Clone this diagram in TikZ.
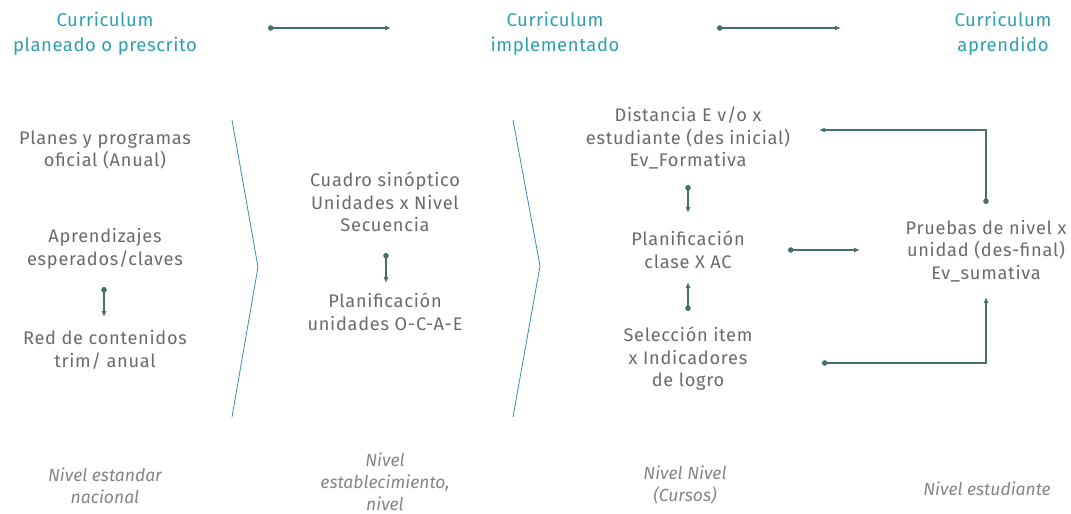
\documentclass[tikz,border=0pt]{standalone}
\usepackage{fontspec}
\setmainfont{Fira Sans}
\usetikzlibrary{arrows.meta}
\definecolor{titlec}{HTML}{2E9FB2}
\definecolor{bodyc}{HTML}{6A6A6A}
\definecolor{linkc}{HTML}{44706E}
\definecolor{chevc}{HTML}{3A8AB4}
\definecolor{levc}{HTML}{858585}
\tikzset{
  ttl/.style={text=titlec, align=center, font=\fontsize{18.5}{25.5}\selectfont\addfontfeatures{LetterSpace=3}, inner sep=0pt},
  bodytxt/.style={text=bodyc, align=center, font=\fontsize{18.2}{22.5}\selectfont\addfontfeatures{LetterSpace=4}, inner sep=0pt},
  lev/.style={text=levc, align=center, font=\fontsize{17.5}{22}\selectfont\itshape, inner sep=0pt},
  link/.style={draw=linkc, line width=1.1pt, {Circle[length=5.5pt]}-{Latex[length=6pt,width=5pt]}},
  chev/.style={draw=chevc, line width=0.8pt}
}
\begin{document}
\begin{tikzpicture}[x=1pt,y=-1pt]
\useasboundingbox (0,0) rectangle (1071,514);
% titles
\node[ttl] (t1) at (105,34) {Curriculum\\planeado o prescrito};
\node[ttl] (t2) at (555,34) {Curriculum\\implementado};
\node[ttl] (t3) at (1003,34) {Curriculum\\aprendido};
\coordinate (a1s) at (268,28); \coordinate (a1e) at (391,28);
\coordinate (a2s) at (717,28); \coordinate (a2e) at (841,28);
\draw[link] (a1s) -- (a1e);
\draw[link] (a2s) -- (a2e);
% chevrons
\coordinate (c1a) at (232,120); \coordinate (c1b) at (258,267); \coordinate (c1c) at (232,417);
\coordinate (c2a) at (513,120); \coordinate (c2b) at (540,266); \coordinate (c2c) at (513,417);
\draw[chev] (c1a) -- (c1b) -- (c1c);
\draw[chev] (c2a) -- (c2b) -- (c2c);
% left column
\node[bodytxt] (l1) at (105,150) {Planes y programas\\oficial (Anual)};
\node[bodytxt] (l2) at (105,249) {Aprendizajes\\esperados/claves};
\node[bodytxt] (l3) at (105,350) {Red de contenidos\\trim/ anual};
\coordinate (l23s) at (104,287); \coordinate (l23e) at (104,317);
\draw[link] (l23s) -- (l23e);
% middle column
\node[bodytxt] (m1) at (385,202) {Cuadro sinóptico\\Unidades x Nivel\\Secuencia};
\node[bodytxt] (m2) at (385,312) {Planificación\\unidades O-C-A-E};
\coordinate (m12s) at (386,253); \coordinate (m12e) at (386,283);
\draw[link] (m12s) -- (m12e);
% right column
\node[bodytxt] (r1) at (688,138) {Distancia E v/o x\\estudiante (des inicial)\\Ev\_Formativa};
\node[bodytxt] (r2) at (688,250) {Planificación\\clase X AC};
\node[bodytxt] (r3) at (688,359) {Selección item\\x Indicadores\\de logro};
\node[bodytxt] (r4) at (986,251) {Pruebas de nivel x\\unidad (des-final)\\Ev\_sumativa};
\coordinate (r12s) at (688,185); \coordinate (r12e) at (688,213);
\draw[link] (r12s) -- (r12e);
\coordinate (r32s) at (688,311); \coordinate (r32e) at (688,282);
\draw[link] (r32s) -- (r32e);
\coordinate (r24s) at (788,250); \coordinate (r24e) at (860,250);
\draw[link] (r24s) -- (r24e);
\coordinate (fbs) at (986,204); \coordinate (fbe) at (819,130);
\draw[link] (fbs) |- (fbe);
\coordinate (fcs) at (822,363); \coordinate (fce) at (986,297);
\draw[link] (fcs) -| (fce);
% levels
\node[lev] (v1) at (105,486) {Nivel estandar\\nacional};
\node[lev] (v2) at (385,482) {Nivel\\establecimiento,\\nivel};
\node[lev] (v3) at (685,485) {Nivel Nivel\\(Cursos)};
\node[lev] (v4) at (987,489) {Nivel estudiante};
\end{tikzpicture}
\end{document}
